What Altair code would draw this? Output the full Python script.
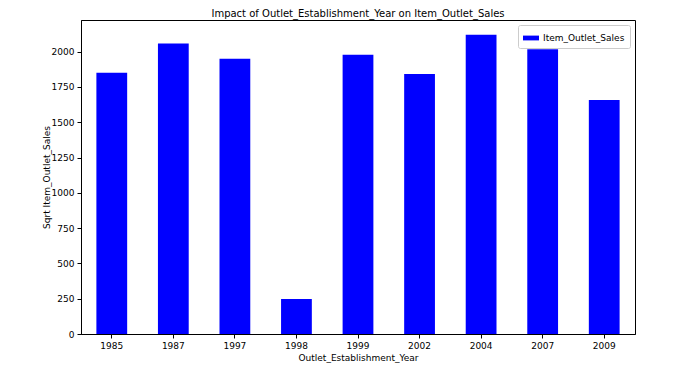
import altair as alt
import pandas as pd

years = ["1985", "1987", "1997", "1998", "1999", "2002", "2004", "2007", "2009"]
sales = [1851, 2057, 1950, 248, 1977, 1842, 2120, 2017, 1658]
series = ["Item_Outlet_Sales"] * len(years)
y_ticks = [0, 250, 500, 750, 1000, 1250, 1500, 1750, 2000]

df = pd.DataFrame({"Outlet_Establishment_Year": years, "Item_Outlet_Sales": sales, "series": series})

FONT = "DejaVu Sans"
W, H = 554, 314

chart = alt.Chart(df).mark_bar(color="blue").encode(
    x=alt.X(
        "Outlet_Establishment_Year:N",
        sort=years,
        scale=alt.Scale(paddingInner=0.5, paddingOuter=0.25),
        axis=alt.Axis(
            title="Outlet_Establishment_Year",
            labelAngle=0,
            labelFont=FONT, labelFontSize=9, labelColor="black",
            titleFont=FONT, titleFontSize=9, titleFontWeight="normal", titleColor="black",
            titleX=W / 2, titleY=23, titleBaseline="middle",
            tickSize=4, tickColor="black", labelPadding=3,
            domainColor="black",
            grid=False,
        ),
    ),
    y=alt.Y(
        "Item_Outlet_Sales:Q",
        scale=alt.Scale(domain=[0, 2224], nice=False),
        axis=alt.Axis(
            title="Sqrt Item_Outlet_Sales",
            values=y_ticks,
            format="d",
            labelFont=FONT, labelFontSize=9, labelColor="black",
            titleFont=FONT, titleFontSize=9, titleFontWeight="normal", titleColor="black",
            titleX=-35, titleY=H / 2, titleBaseline="middle", titleAngle=270,
            tickSize=4, tickColor="black", labelPadding=3,
            domainColor="black",
            grid=False,
        ),
    ),
    color=alt.Color(
        "series:N",
        scale=alt.Scale(range=["blue"]),
        legend=alt.Legend(
            title=None,
            orient="top-right",
            offset=5,
            padding=5,
            fillColor="white",
            strokeColor="#cccccc",
            cornerRadius=2,
            symbolType="M-1,-0.3L1,-0.3L1,0.3L-1,0.3Z",
            symbolSize=256,
            symbolStrokeWidth=0,
            labelFont=FONT, labelFontSize=9, labelColor="black",
        ),
    ),
).properties(
    width=W,
    height=H,
    title=alt.TitleParams(
        "Impact of Outlet_Establishment_Year on Item_Outlet_Sales",
        font=FONT, fontSize=10, fontWeight="normal", color="black",
        offset=1,
    ),
    autosize=alt.AutoSizeParams(type="none"),
    padding={"left": 73, "top": 12, "right": 57, "bottom": 29},
).configure_view(stroke="black", strokeWidth=1)

chart.save("out.html", embed_options={"renderer": "svg", "actions": False})
